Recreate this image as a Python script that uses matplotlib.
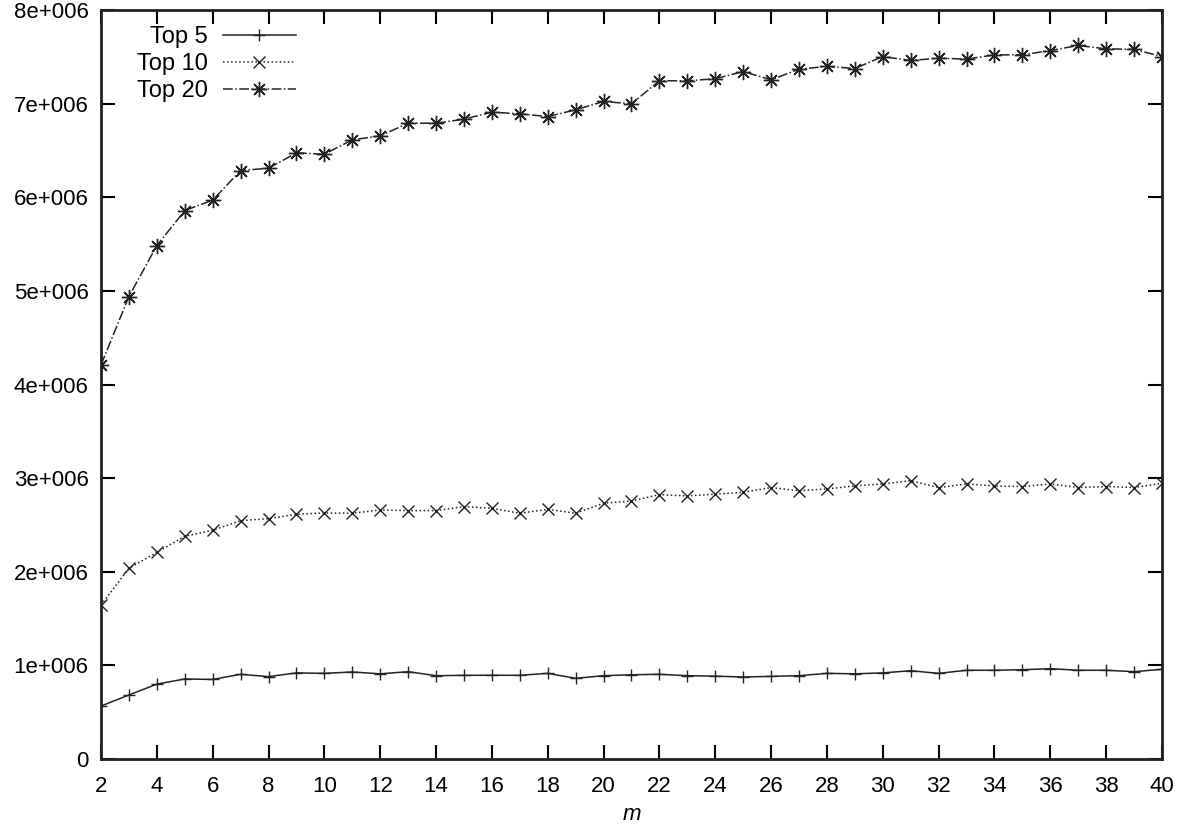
import matplotlib
matplotlib.use("Agg")
import matplotlib.pyplot as plt
from matplotlib.ticker import FuncFormatter, MultipleLocator

plt.rcParams['font.family'] = ['Liberation Sans', 'DejaVu Sans']

m = list(range(2, 41))

top5 = [0.566, 0.684, 0.80, 0.855, 0.85, 0.905, 0.88, 0.92, 0.915, 0.93,
        0.91, 0.933, 0.89, 0.894, 0.895, 0.894, 0.915, 0.862, 0.89, 0.90,
        0.905, 0.89, 0.885, 0.876, 0.883, 0.89, 0.915, 0.91, 0.92, 0.943,
        0.915, 0.948, 0.948, 0.954, 0.965, 0.948, 0.948, 0.933, 0.958]

top10 = [1.645, 2.037, 2.208, 2.379, 2.443, 2.546, 2.567, 2.614, 2.628, 2.625,
         2.66, 2.653, 2.653, 2.696, 2.678, 2.625, 2.667, 2.625, 2.732, 2.756,
         2.824, 2.81, 2.828, 2.849, 2.899, 2.866, 2.885, 2.917, 2.938, 2.973,
         2.899, 2.938, 2.917, 2.91, 2.938, 2.90, 2.91, 2.90, 2.945]

top20 = [4.209, 4.94, 5.484, 5.858, 5.969, 6.285, 6.31, 6.474, 6.46, 6.613,
         6.656, 6.791, 6.791, 6.834, 6.909, 6.891, 6.862, 6.934, 7.023, 6.998,
         7.244, 7.244, 7.265, 7.343, 7.254, 7.368, 7.397, 7.375, 7.503, 7.461,
         7.486, 7.475, 7.521, 7.521, 7.567, 7.621, 7.585, 7.58, 7.503]

series = [
    ("Top 5", top5, '-', '+', 8),
    ("Top 10", top10, ':', 'x', 8),
    ("Top 20", top20, '-.', (8, 2, 0), 11),
]

fig = plt.figure(figsize=(11.8, 8.33), dpi=100)
ax = fig.add_axes([0.0856, 0.0888, 0.8991, 0.8992])

for label, vals, ls, mk, ms in series:
    ax.plot(m, [v * 1e6 for v in vals], linestyle=ls, marker=mk, color='#222222',
            linewidth=1.1, markersize=ms, markeredgewidth=1.0, label=label)

ax.set_xlim(2, 40)
ax.set_ylim(0, 8e6)
ax.xaxis.set_major_locator(MultipleLocator(2))
ax.yaxis.set_major_locator(MultipleLocator(1e6))

def ylab(v, pos):
    if v == 0:
        return "0"
    return f"{int(round(v / 1e6))}e+006"

ax.yaxis.set_major_formatter(FuncFormatter(ylab))
ax.tick_params(direction='in', length=10, width=1.5, top=True, right=True,
               labelsize=16, pad=9, colors='black')
ax.tick_params(axis='x', pad=12)
for s in ax.spines.values():
    s.set_linewidth(2)
    s.set_color('#222222')

ax.set_xlabel("m", fontsize=16, style='italic', labelpad=5)

ax.legend(loc='upper left', frameon=False, markerfirst=False, fontsize=17,
          handlelength=3.1, handletextpad=0.65, labelspacing=0.2,
          borderpad=0, borderaxespad=0, bbox_to_anchor=(0.0335, 0.978))

fig.savefig("out.png", dpi=100)
